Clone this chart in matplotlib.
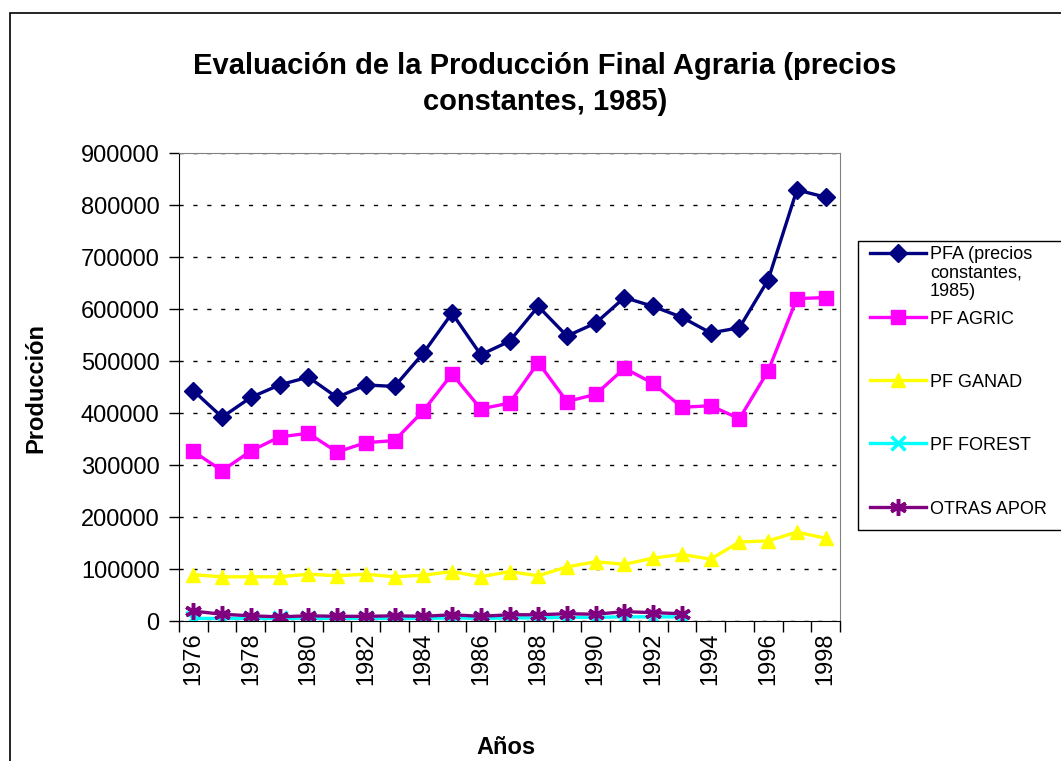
import matplotlib
matplotlib.use("Agg")
import matplotlib.pyplot as plt
from matplotlib import font_manager
from matplotlib.lines import Line2D
from matplotlib.patches import Rectangle

plt.rcParams['font.family'] = ['Liberation Sans', 'DejaVu Sans']

# data
years = list(range(1976, 1999))
pfa = [443000, 392000, 430000, 454000, 469000, 430000, 454000, 451000, 515000, 592000,
       512000, 538000, 605000, 548000, 573000, 622000, 605000, 584000, 554000, 564000,
       656000, 829000, 815000]
pf_agric = [326000, 289000, 327000, 354000, 361000, 325000, 343000, 347000, 404000, 475000,
            408000, 419000, 497000, 422000, 436000, 486000, 457000, 411000, 414000, 389000,
            481000, 620000, 622000]
pf_ganad = [89000, 85000, 85000, 85000, 90000, 87000, 90000, 85000, 88000, 95000,
            85000, 95000, 87000, 104000, 114000, 109000, 121000, 128000, 119000, 152000,
            154000, 171000, 159000]
# these two only run until 1993
pf_forest = [5000, 5000, 5000, 5000, 5000, 5000, 5000, 5000, 5000, 6000,
             5000, 6000, 6000, 7000, 7000, 8000, 8000, 8000]
otras_apor = [19000, 13000, 10000, 8000, 10000, 9000, 9000, 10000, 9000, 12000,
              9000, 12000, 12000, 14000, 13000, 18000, 16000, 14000]

labels = ["PFA (precios\nconstantes,\n1985)", "PF AGRIC", "PF GANAD", "PF FOREST", "OTRAS APOR"]
colors = ["#000080", "#FF00FF", "#FFFF00", "#00FFFF", "#800080"]
markers = ["D", "s", "^", "x", (6, 2, 0)]
msizes = [9, 10, 10, 10, 12]

W, H = 1061, 761
fig = plt.figure(figsize=(W / 100, H / 100), dpi=100)

def fx(px):
    return px / W

def fy(py):
    return 1 - py / H

ax = fig.add_axes([fx(179), fy(621), fx(840) - fx(179), fy(153) - fy(621)])

series = [pfa, pf_agric, pf_ganad, pf_forest, otras_apor]
for vals, c, m, ms in zip(series, colors, markers, msizes):
    x = list(range(len(vals)))
    mew = 2.5 if m in ("x",) or isinstance(m, tuple) else 1
    ax.plot(x, vals, color=c, lw=2.4, marker=m, markersize=ms,
            markerfacecolor=c, markeredgecolor=c, markeredgewidth=mew)

ax.set_xlim(-0.5, len(years) - 0.5)
ax.set_ylim(0, 900000)
ax.set_yticks(range(0, 900001, 100000))
ax.tick_params(axis='y', labelsize=17, direction='out', length=7, width=1, pad=7)

ax.set_xticks(range(0, len(years), 2))
ax.set_xticklabels([str(y) for y in years[::2]], rotation=90, fontsize=17)
ax.set_xticks([i - 0.5 for i in range(len(years) + 1)], minor=True)
ax.tick_params(axis='x', which='major', length=0, pad=8)
ax.tick_params(axis='x', which='minor', direction='out', length=8, width=1)

ax.grid(axis='y', color='black', linestyle=(0, (3, 7)), linewidth=1)
ax.set_axisbelow(True)
for s in ('top', 'right'):
    ax.spines[s].set_color('#808080')
for s in ('left', 'bottom'):
    ax.spines[s].set_color('black')

fig.text(fx(36), fy(388), "Producción", rotation=90, fontsize=17, fontweight='bold',
         ha='center', va='center')
fig.text(fx(506), fy(747), "Años", fontsize=17, fontweight='bold', ha='center', va='center')

# title is drawn in a narrow face in the original
names = {f.name for f in font_manager.fontManager.ttflist}
if 'Liberation Sans Narrow' in names:
    tfam, tsize = ['Liberation Sans Narrow', 'DejaVu Sans'], 24
else:
    tfam, tsize = ['Liberation Sans', 'DejaVu Sans'], 21
fig.text(fx(545), fy(84), "Evaluación de la Producción Final Agraria (precios\nconstantes, 1985)",
         family=tfam, fontsize=tsize, fontweight='bold', ha='center', va='center', linespacing=1.4)

# outer chart border
fig.patches.append(Rectangle((fx(10), -0.1), 2, fy(13) + 0.1, transform=fig.transFigure,
                             fill=False, edgecolor='black', lw=1.2))

# legend box drawn by hand to match layout
fig.patches.append(Rectangle((fx(858), fy(530)), 2, fy(241) - fy(530), transform=fig.transFigure,
                             fill=False, edgecolor='black', lw=1))
entry_y = [253, 317, 380, 443, 507]
for lab, c, m, ms, ey in zip(labels, colors, markers, msizes, entry_y):
    mew = 2.5 if m in ("x",) or isinstance(m, tuple) else 1
    fig.lines.append(Line2D([fx(870), fx(926)], [fy(ey), fy(ey)], transform=fig.transFigure,
                            color=c, lw=2.4))
    fig.lines.append(Line2D([fx(898)], [fy(ey)], transform=fig.transFigure, color=c,
                            marker=m, markersize=ms, markerfacecolor=c, markeredgecolor=c,
                            markeredgewidth=mew))
    if "\n" in lab:
        fig.text(fx(930), fy(246), lab, fontsize=13, ha='left', va='top', linespacing=1.1)
    else:
        fig.text(fx(930), fy(ey + 2), lab, fontsize=13, ha='left', va='center')

fig.savefig("out.png", dpi=100)
